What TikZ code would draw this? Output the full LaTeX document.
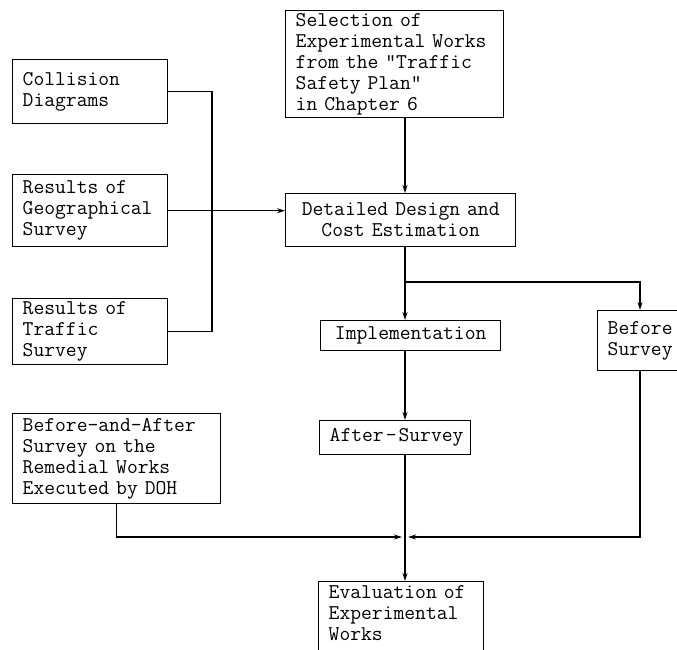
\documentclass[tikz,border=0pt]{standalone}
\usetikzlibrary{arrows.meta}
\begin{document}
\begin{tikzpicture}[x=1pt,y=-1pt,
  box/.style={draw, line width=1.4pt, anchor=north west, inner xsep=10pt, inner ysep=0pt,
    font=\ttfamily\fontsize{21}{21}\selectfont, align=left},
  conn/.style={line width=1.1pt},
  arr/.style={conn, -{Stealth[length=8pt,width=5pt]}}]
\useasboundingbox (0,0) rectangle (677,650);
\clip (0,0) rectangle (677,650);
\node[box, text width=198pt, minimum height=107pt] (sel) at (285,10) {Selection of\\Experimental Works\\from the "Traffic\\Safety Plan"\\in Chapter 6};
\node[box, text width=135pt, minimum height=64pt] (col) at (12,59) {Collision\\Diagrams};
\node[box, text width=135pt, minimum height=72pt] (geo) at (12,174) {Results of\\Geographical\\Survey};
\node[box, text width=135pt, minimum height=66pt] (tra) at (12,298) {Results of\\Traffic\\Survey};
\node[box, text width=212pt, minimum height=53pt, align=center, inner xsep=9pt] (det) at (285,193) {Detailed Design and\\Cost Estimation};
\node[box, text width=160pt, minimum height=30pt, align=center] (imp) at (320,320) {Implementation};
\node[box, text width=80pt, minimum height=60pt] (bef) at (597,310) {Before\\Survey};
\node[box, text width=131pt, minimum height=34pt] (aft) at (319,420) {\mbox{After\hspace{2pt}\textendash\hspace{2pt}Survey}};
\node[box, text width=188pt, minimum height=90pt] (baa) at (12,413) {Before-and-After\\Survey on the\\Remedial Works\\Executed by DOH};
\node[box, text width=145pt, minimum height=90pt] (eva) at (318,581) {Evaluation of\\Experimental\\Works\\\strut};
\coordinate (cx) at (405,0);
\coordinate (vx) at (212,0);
\coordinate (bx) at (640,0);
\coordinate (j1) at (405,282);
\coordinate (jn) at (405,537);
\draw[conn] (col.east) -| (vx |- tra.east) -- (tra.east);
\draw[arr] (geo.east) -- (geo.east -| det.west);
\draw[arr] (sel.south -| cx) -- (det.north -| cx);
\draw[arr] (det.south -| cx) -- (imp.north -| cx);
\draw[arr] (j1) -| (bef.north -| bx);
\draw[arr] (imp.south -| cx) -- (aft.north -| cx);
\draw[arr] (aft.south -| cx) -- (eva.north -| cx);
\draw[arr, shorten >=3pt] (baa.south) |- (jn);
\draw[arr, shorten >=3pt] (bef.south -| bx) |- (jn);
\end{tikzpicture}
\end{document}
